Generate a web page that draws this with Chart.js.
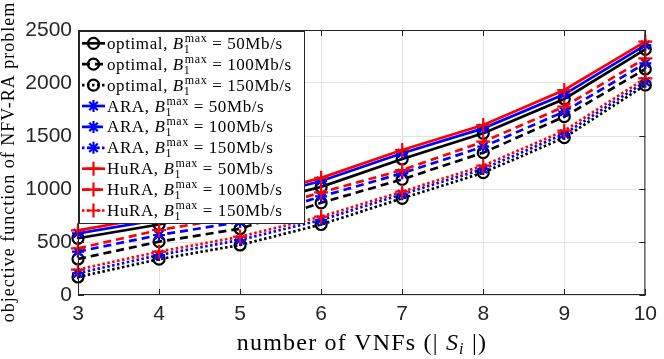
<!DOCTYPE html>
<html lang="en">
<head>
<meta charset="UTF-8">
<title>NFV-RA objective</title>
<script src="https://cdn.jsdelivr.net/npm/chart.js"></script>
<style>
  body { margin:0; background:#fff; }
</style>
</head>
<body>
<canvas id="myChart" width="664" height="359"></canvas>
<script>
// x categories: number of VNFs
const vnfs = ['3','4','5','6','7','8','9','10'];
const yTicks = [0, 500, 1000, 1500, 2000, 2500];

// optimal
const opt50  = [535, 665, 830, 1020, 1283, 1525, 1849, 2318];
const opt100 = [340, 503, 625, 870, 1091, 1343, 1682, 2132];
const opt150 = [170, 338, 472, 665, 912, 1154, 1484, 1981];
// ARA
const ara50  = [582, 710, 875, 1075, 1337, 1572, 1893, 2358];
const ara100 = [409, 566, 690, 930, 1148, 1399, 1730, 2186];
const ara150 = [205, 377, 519, 708, 950, 1189, 1519, 2012];
// HuRA
const hura50  = [610, 745, 905, 1105, 1368, 1604, 1934, 2390];
const hura100 = [440, 613, 740, 968, 1179, 1446, 1777, 2233];
const hura150 = [240, 409, 550, 739, 975, 1220, 1550, 2044];

const names = ['optimal, ', 'optimal, ', 'optimal, ', 'ARA, ', 'ARA, ', 'ARA, ', 'HuRA, ', 'HuRA, ', 'HuRA, '];
const rates = ['50Mb/s', '100Mb/s', '150Mb/s'];

// solid / dashed / dotted for 50 / 100 / 150 Mb/s
const dashes = [[], [8, 5], [2.5, 2.5]];

function mkSet(data, color, marker, rad, i){
    return {
        data: data,
        borderColor: color,
        borderWidth: 2.7,
        borderDash: dashes[i % 3],
        borderCapStyle: 'butt',
        pointStyle: marker,
        pointRadius: rad,
        pointBorderWidth: 2.2,
        pointBorderColor: color,
        pointBackgroundColor: 'rgba(0,0,0,0)',
        tension: 0,
        fill: false,
        clip: false,
        order: 8 - i
    };
}

const sets = [
    mkSet(opt50, '#000000', 'circle', 5.5, 0),
    mkSet(opt100, '#000000', 'circle', 5.5, 1),
    mkSet(opt150, '#000000', 'circle', 5.5, 2),
    mkSet(ara50, '#0000ff', 'star', 6, 3),
    mkSet(ara100, '#0000ff', 'star', 6, 4),
    mkSet(ara150, '#0000ff', 'star', 6, 5),
    mkSet(hura50, '#ff0000', 'cross', 7, 6),
    mkSet(hura100, '#ff0000', 'cross', 7, 7),
    mkSet(hura150, '#ff0000', 'cross', 7, 8)
];

// box, inward ticks, legend inside the axes, axis labels
const extras = {
    id: 'extras',
    afterDraw(chart){
        const c = chart.ctx;
        const a = chart.chartArea;
        const xs = chart.scales.x, ys = chart.scales.y;
        c.save();
        c.strokeStyle = '#262626';
        c.lineWidth = 1;
        c.strokeRect(a.left + 0.5, a.top + 0.5, a.right - a.left - 1, a.bottom - a.top - 1);
        c.beginPath();
        vnfs.forEach((v, i) => {
            const px = Math.round(xs.getPixelForValue(i)) + 0.5;
            c.moveTo(px, a.bottom); c.lineTo(px, a.bottom - 6);
            c.moveTo(px, a.top); c.lineTo(px, a.top + 6);
        });
        yTicks.forEach(t => {
            const py = Math.round(ys.getPixelForValue(t)) + 0.5;
            c.moveTo(a.left, py); c.lineTo(a.left + 6, py);
            c.moveTo(a.right, py); c.lineTo(a.right - 6, py);
        });
        c.stroke();

        // legend
        const lx = 79, ly = 31, lw = 225, lh = 192, rowH = 20.9;
        c.fillStyle = '#ffffff';
        c.fillRect(lx, ly, lw, lh);
        c.strokeStyle = '#262626';
        c.strokeRect(lx + 0.5, ly + 0.5, lw, lh);
        sets.forEach((ds, i) => {
            const cy = 43.3 + i * rowH;
            c.save();
            c.strokeStyle = ds.borderColor;
            c.lineWidth = ds.borderWidth;
            c.setLineDash(ds.borderDash);
            c.beginPath(); c.moveTo(82, cy); c.lineTo(105, cy); c.stroke();
            c.setLineDash([]);
            c.lineWidth = ds.pointBorderWidth;
            c.fillStyle = 'rgba(0,0,0,0)';
            Chart.helpers.drawPoint(c, {pointStyle: ds.pointStyle, radius: ds.pointRadius, rotation: 0, borderWidth: ds.pointBorderWidth}, 93.5, cy);
            c.restore();

            c.fillStyle = '#000';
            c.textBaseline = 'alphabetic';
            c.letterSpacing = '0.6px';
            let x = 107;
            const base = cy + 5.5;
            c.font = '17px "Liberation Serif"';
            c.fillText(names[i], x, base); x += c.measureText(names[i]).width;
            c.font = 'italic 17px "Liberation Serif"';
            c.fillText('B', x, base); x += c.measureText('B').width + 1;
            c.font = '12px "Liberation Serif"';
            c.fillText('max', x, base - 7);
            c.fillText('1', x - 1, base + 4);
            x += c.measureText('max').width;
            c.font = '17px "Liberation Serif"';
            c.fillText(' = ', x, base); x += c.measureText(' = ').width;
            c.fillText(rates[i % 3], x, base);
        });

        // y label
        c.letterSpacing = '1px';
        c.fillStyle = '#000';
        c.font = '18px "Liberation Serif"';
        c.translate(14, 162);
        c.rotate(-Math.PI / 2);
        c.textAlign = 'center';
        c.fillText('objective function of NFV-RA problem', 0, 0);
        c.restore();

        // x label
        c.save();
        c.fillStyle = '#000';
        c.letterSpacing = '1.2px';
        const parts = [
            ['number of VNFs (| ', '24px "Liberation Serif"', 0],
            ['S', 'italic 24px "Liberation Serif"', 0],
            ['i', 'italic 16px "Liberation Serif"', 4],
            [' |)', '24px "Liberation Serif"', 0]
        ];
        let total = 0;
        parts.forEach(p => { c.font = p[1]; total += c.measureText(p[0]).width; });
        let x = 362 - total / 2;
        parts.forEach(p => {
            c.font = p[1];
            c.fillText(p[0], x, 350 + p[2]);
            x += c.measureText(p[0]).width;
        });
        c.restore();
    }
};

const ctx = document.getElementById('myChart').getContext('2d');
const myChart = new Chart(ctx, {
    type: 'line',
    data: { labels: vnfs, datasets: sets },
    options: {
        responsive: false,
        animation: false,
        layout: { padding: { top: 30, right: 12, left: 0, bottom: 0 } },
        plugins: { legend: { display: false }, tooltip: { enabled: false } },
        scales: {
            x: {
                grid: { color: '#e3e3e3', drawTicks: false },
                border: { display: false },
                ticks: { color: '#262626', font: { family: 'Liberation Sans', size: 21 }, padding: 7, maxRotation: 0 },
                afterFit(s){ s.height = 64; }
            },
            y: {
                min: 0, max: 2500,
                grid: { color: '#e3e3e3', drawTicks: false },
                border: { display: false },
                ticks: {
                    stepSize: 500, color: '#262626', padding: 6,
                    font: { family: 'Liberation Sans', size: 21 },
                    callback: v => String(v)
                },
                afterFit(s){ s.width = 78; }
            }
        }
    },
    plugins: [extras]
});
</script>
</body>
</html>
